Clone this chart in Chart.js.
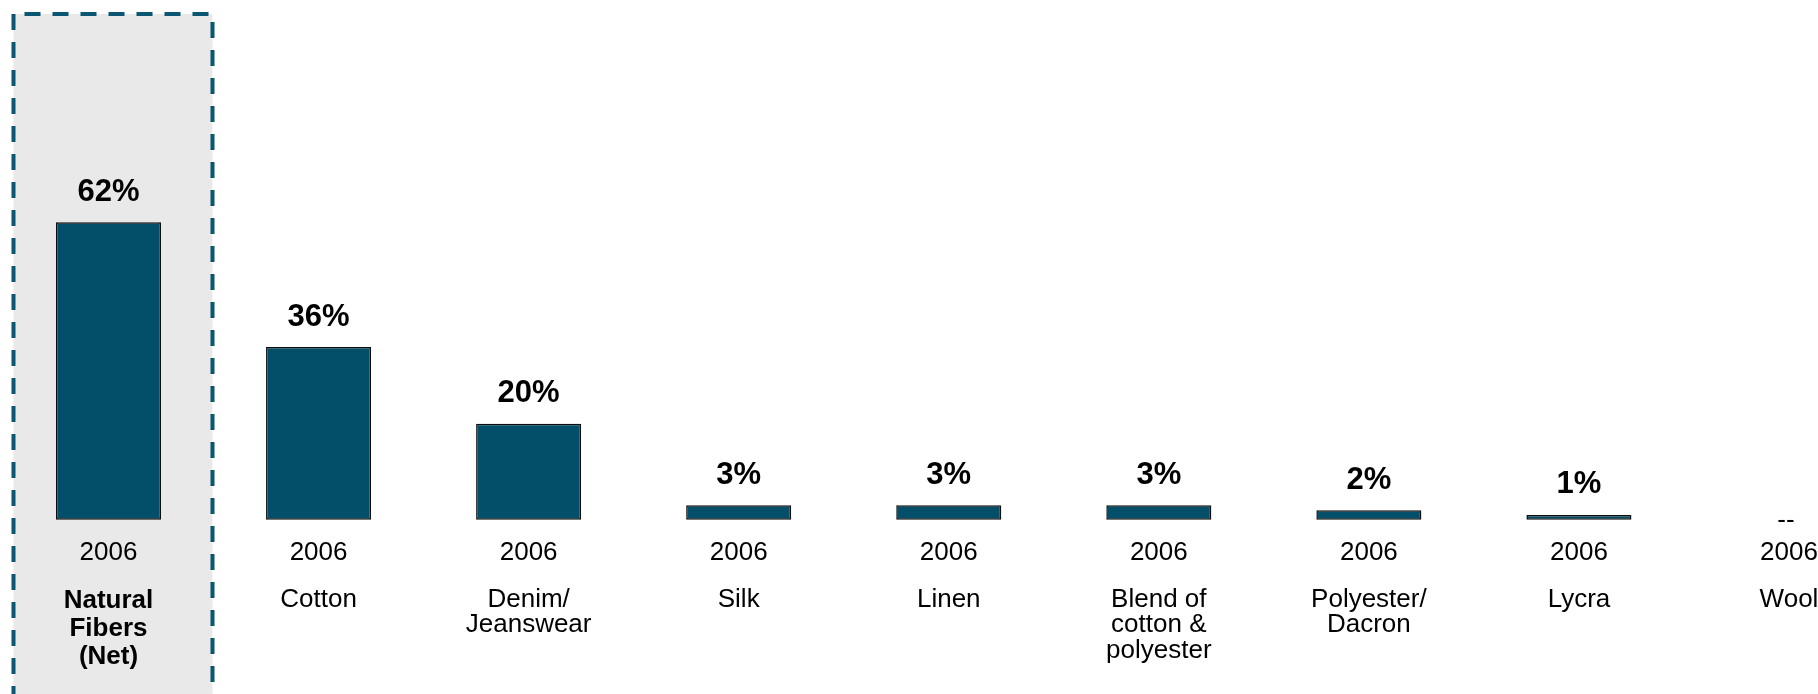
<!DOCTYPE html>
<html>
<head>
<meta charset="utf-8">
<script src="https://cdn.jsdelivr.net/npm/chart.js@4/dist/chart.umd.min.js"></script>
<style>
  html, body { margin: 0; padding: 0; background: #fff; overflow: hidden; }
  #wrap { width: 1818px; height: 694px; position: relative; }
</style>
</head>
<body>
<div id="wrap"><canvas id="fibers"></canvas></div>
<script>
const categories = [
  ["Natural", "Fibers", "(Net)"],
  "Cotton",
  ["Denim/", "Jeanswear"],
  "Silk",
  "Linen",
  ["Blend of", "cotton &", "polyester"],
  ["Polyester/", "Dacron"],
  "Lycra",
  "Wool"
];
const years = ["2006", "2006", "2006", "2006", "2006", "2006", "2006", "2006", "2006"];
const shares = [62, 36, 20, 3, 3, 3, 2, 1, null];

const BAR = "#034f6a";
const FONT = "'Liberation Sans', Arial, sans-serif";

// grey dashed box behind the net column
const netBox = {
  id: "netBox",
  beforeDraw(chart) {
    const ctx = chart.ctx;
    const cx = chart.scales.x.getPixelForValue(0);
    const l = cx - 95, r = cx + 104, t = 14, b = chart.height + 10;
    ctx.save();
    ctx.fillStyle = "#e9e9e9";
    ctx.fillRect(l, t, r - l, b - t);
    ctx.strokeStyle = "#0b5672";
    ctx.lineWidth = 4;
    ctx.setLineDash([16, 12]);
    ctx.beginPath(); ctx.moveTo(l, t); ctx.lineTo(l, b); ctx.stroke();
    ctx.beginPath(); ctx.moveTo(l + 11, t); ctx.lineTo(r, t); ctx.stroke();
    ctx.beginPath(); ctx.moveTo(r, t + 8); ctx.lineTo(r, b); ctx.stroke();
    ctx.restore();
  }
};

// value labels over the bars, "--" where there is no value
const valueLabels = {
  id: "valueLabels",
  afterDatasetsDraw(chart) {
    const ctx = chart.ctx;
    const meta = chart.getDatasetMeta(0);
    const base = chart.scales.y.getPixelForValue(0);
    ctx.save();
    ctx.fillStyle = "#000";
    ctx.textAlign = "center";
    ctx.textBaseline = "alphabetic";
    meta.data.forEach((bar, i) => {
      const v = shares[i];
      if (v === null) {
        ctx.font = "26px " + FONT;
        ctx.fillText("--", bar.x - 3, base + 8);
      } else {
        ctx.font = "bold 31px " + FONT;
        ctx.fillText(v + "%", bar.x, bar.y - 21.5);
      }
    });
    ctx.restore();
  }
};

const noSidePad = s => { s.paddingLeft = 0; s.paddingRight = 0; };

new Chart(document.getElementById("fibers"), {
  type: "bar",
  data: {
    labels: categories,
    datasets: [{
      data: shares,
      backgroundColor: BAR,
      borderColor: "#0d0d0d",
      borderWidth: 1.5,
      borderSkipped: false,
      barPercentage: 0.5,
      categoryPercentage: 1,
      clip: false
    }]
  },
  options: {
    responsive: true,
    maintainAspectRatio: false,
    animation: false,
    layout: { padding: { top: 40, left: 108.5, right: 29, bottom: 21.5 } },
    plugins: { legend: { display: false }, tooltip: { enabled: false } },
    scales: {
      y: { display: false, min: 0, max: 100 },
      x: {
        type: "category",
        labels: years,
        offset: false,
        weight: 0,
        grid: { display: false, drawTicks: false },
        border: { display: false },
        ticks: {
          autoSkip: false, maxRotation: 0, minRotation: 0,
          padding: 20, color: "#000",
          font: { family: FONT, size: 26, lineHeight: 1.0 }
        },
        afterFit: noSidePad
      },
      x2: {
        type: "category",
        position: "bottom",
        labels: categories,
        offset: false,
        weight: 1,
        grid: { display: false, drawTicks: false },
        border: { display: false },
        ticks: {
          autoSkip: false, maxRotation: 0, minRotation: 0,
          padding: 1.25, color: "#000",
          font: c => c.index === 0
            ? { family: FONT, size: 26, weight: "bold", lineHeight: 1.08 }
            : { family: FONT, size: 26, lineHeight: 0.98 }
        },
        afterFit: noSidePad
      }
    }
  },
  plugins: [netBox, valueLabels]
});
</script>
</body>
</html>
